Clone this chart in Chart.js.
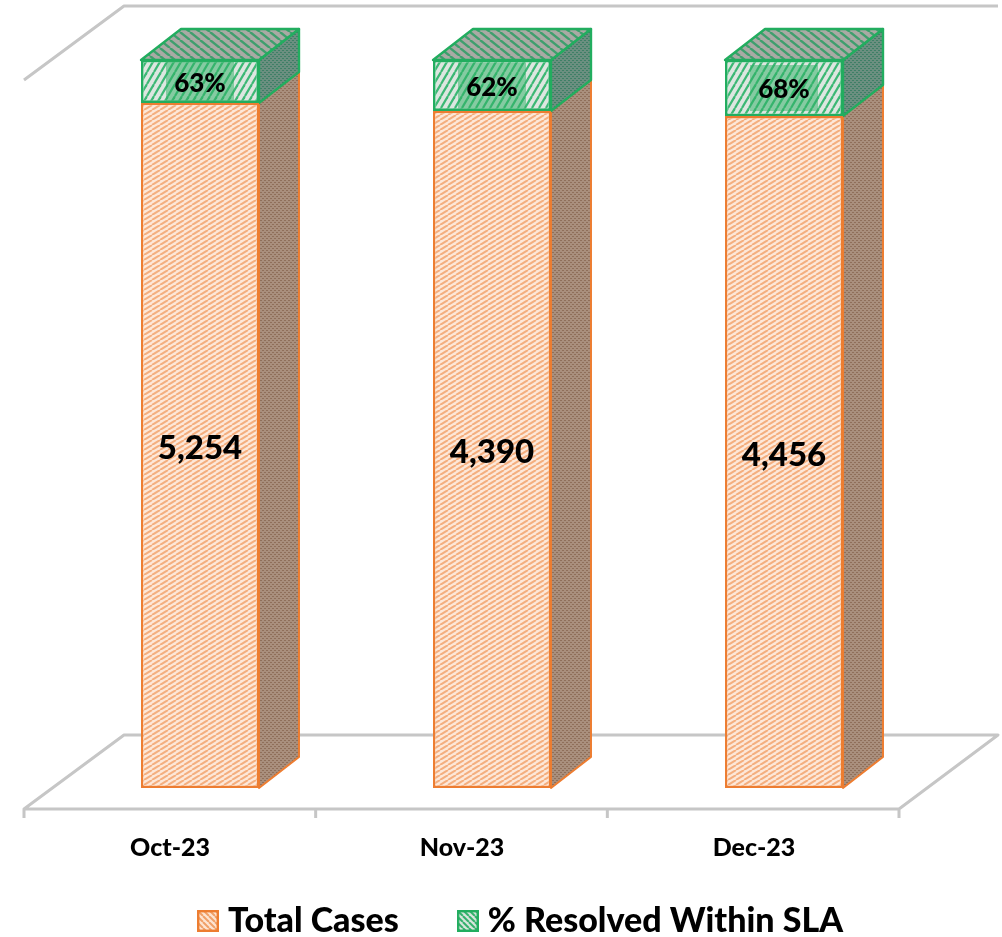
<!DOCTYPE html>
<html lang="en">
<head>
<meta charset="utf-8">
<title>Total Cases and % Resolved Within SLA</title>
<script src="https://cdn.jsdelivr.net/npm/chart.js@4"></script>
<style>html,body{margin:0;padding:0;background:#fff;overflow:hidden}canvas{display:block}</style>
</head>
<body>
<canvas id="c" width="1002" height="937"></canvas>
<script>
const categories = ['Oct-23', 'Nov-23', 'Dec-23'];
const totalCases = [5254, 4390, 4456];
const resolvedPct = [63, 62, 68];
// Heights of the two segments as a share of the full 100% column.
const totalShare = [94.1, 93.0, 92.3];
const resolvedShare = [5.9, 7.0, 7.7];
const seriesNames = ['Total Cases', '% Resolved Within SLA'];

const FONT = 'Lato, "Open Sans", sans-serif';
const ORANGE = '#ed7d31', GREEN = '#22ad5f', GRID = '#c6c6c6';

function tile(w, h, draw) {
  const c = document.createElement('canvas');
  c.width = w; c.height = h;
  draw(c.getContext('2d'));
  return c.getContext('2d').createPattern(c, 'repeat');
}
function hatch(bg, fg, w, h, lw, flip) {
  return tile(w, h, g => {
    g.fillStyle = bg; g.fillRect(0, 0, w, h);
    g.strokeStyle = fg; g.lineWidth = lw;
    for (let i = -1; i <= 2; i++) {
      g.beginPath();
      if (flip) { g.moveTo(i * w - w, 0); g.lineTo(i * w, h); }
      else { g.moveTo(i * w - w, h); g.lineTo(i * w, 0); }
      g.stroke();
    }
  });
}
function dots(bg, fg) {
  return tile(4, 4, g => {
    g.fillStyle = bg; g.fillRect(0, 0, 4, 4);
    g.fillStyle = fg;
    g.fillRect(0, 0, 2, 1); g.fillRect(2, 2, 2, 1);
  });
}
function swatch(fill, stroke) {
  const c = document.createElement('canvas');
  c.width = 22; c.height = 22;
  const g = c.getContext('2d');
  g.fillStyle = fill; g.fillRect(0, 0, 22, 22);
  g.strokeStyle = stroke; g.lineWidth = 2.4; g.strokeRect(1.2, 1.2, 19.6, 19.6);
  return c;
}
const fillOrange = hatch('#fde8d9', '#f4ae7e', 8, 5, 2);
const fillGreen = hatch('#dde6e0', '#3cb874', 7, 12, 2.2);
const topGreen = hatch('#a9aaa4', '#3f9f6e', 10, 8, 2.4, true);
const sideOrange = dots('#a98f7d', '#8f6f5a');
const sideGreen = dots('#6b8f80', '#3f7f66');
const legendOrange = swatch(hatch('#fde4d2', '#f0a068', 6, 6, 2, true), ORANGE);
const legendGreen = swatch(hatch('#dbe6df', '#2fb06a', 6, 6, 2, true), GREEN);

function poly(ctx, pts, fill, stroke, lw) {
  ctx.beginPath();
  pts.forEach((p, i) => i ? ctx.lineTo(p[0], p[1]) : ctx.moveTo(p[0], p[1]));
  ctx.closePath();
  ctx.fillStyle = fill; ctx.fill();
  ctx.strokeStyle = stroke; ctx.lineWidth = lw; ctx.lineJoin = 'round'; ctx.stroke();
}

const frame3d = {
  id: 'frame3d',
  afterLayout(chart) {
    const lg = chart.legend;
    lg.left += 32; lg.right += 32;
    lg.top = 838; lg.bottom = 937;
  },
  beforeDatasetsDraw(chart) {
    const { ctx, chartArea: a } = chart;
    const fl = a.left - 30, fr = fl + 875, fy = a.bottom + 21, bl = fl + 100, br = fr + 99, by = a.bottom - 53;
    const ty = a.top - 54;
    ctx.save();
    ctx.strokeStyle = GRID; ctx.lineWidth = 3; ctx.lineCap = 'butt'; ctx.lineJoin = 'round';
    ctx.beginPath();
    ctx.moveTo(fl, fy); ctx.lineTo(fr, fy); ctx.lineTo(br, by); ctx.lineTo(bl, by); ctx.closePath();
    ctx.moveTo(fl, a.top + 20); ctx.lineTo(bl, ty); ctx.lineTo(br, ty);
    for (let i = 0; i <= categories.length; i++) {
      const x = fl + i * (fr - fl) / categories.length;
      ctx.moveTo(x, fy); ctx.lineTo(x, fy + 9);
    }
    ctx.stroke();
    const dx = 40, dy = -31;
    const m0 = chart.getDatasetMeta(0).data, m1 = chart.getDatasetMeta(1).data;
    m0.forEach((bar, i) => {
      const r = bar.x + bar.width / 2, l = bar.x - bar.width / 2;
      const mid = bar.y, bot = bar.base, top = m1[i].y;
      poly(ctx, [[r, mid], [r + dx, mid + dy], [r + dx, bot + dy], [r, bot]], sideOrange, ORANGE, 2);
      poly(ctx, [[r, top], [r + dx, top + dy], [r + dx, mid + dy], [r, mid]], sideGreen, GREEN, 2.4);
      poly(ctx, [[l, top], [l + dx, top + dy], [r + dx, top + dy], [r, top]], topGreen, GREEN, 2.4);
    });
    ctx.restore();
  },
  afterDatasetsDraw(chart) {
    const { ctx } = chart;
    const m0 = chart.getDatasetMeta(0).data, m1 = chart.getDatasetMeta(1).data;
    ctx.save();
    ctx.textAlign = 'center'; ctx.textBaseline = 'middle'; ctx.fillStyle = '#000';
    m0.forEach((bar, i) => {
      ctx.fillStyle = '#000';
      ctx.font = '900 33px ' + FONT;
      ctx.fillText(totalCases[i].toLocaleString('en-US'), bar.x, (bar.y + bar.base) / 2 + 3);
      const top = m1[i].y, bottom = bar.y, cy = (top + bottom) / 2;
      const y0 = Math.max(top + 1, cy - 23), y1 = Math.min(bottom - 1, cy + 23);
      ctx.fillStyle = 'rgba(46,176,100,0.5)';
      ctx.fillRect(bar.x - 34, y0, 68, y1 - y0);
      ctx.fillStyle = '#000';
      ctx.font = '900 26px ' + FONT;
      ctx.fillText(resolvedPct[i] + '%', bar.x, cy + 2);
    });
    ctx.restore();
  }
};

new Chart(document.getElementById('c'), {
  type: 'bar',
  plugins: [frame3d],
  data: {
    labels: categories,
    datasets: [
      { label: seriesNames[0], data: totalShare, backgroundColor: fillOrange, borderColor: ORANGE, borderWidth: 2.4, borderSkipped: false },
      { label: seriesNames[1], data: resolvedShare, backgroundColor: fillGreen, borderColor: GREEN, borderWidth: 2.6, borderSkipped: false }
    ]
  },
  options: {
    responsive: false,
    animation: false,
    devicePixelRatio: 1,
    layout: { padding: { left: 54, right: 72, top: 60, bottom: 0 } },
    datasets: { bar: { categoryPercentage: 0.404, barPercentage: 1 } },
    scales: {
      x: {
        stacked: true,
        grid: { display: false },
        border: { display: false },
        ticks: {
          color: '#000', font: { family: FONT, weight: '900', size: 25 },
          labelOffset: -30, padding: 37, maxRotation: 0, autoSkip: false
        },
        afterFit(s) { s.height = 89; }
      },
      y: { stacked: true, display: false, min: 0, max: 100 }
    },
    plugins: {
      tooltip: { enabled: false },
      legend: {
        position: 'bottom',
        maxHeight: 60,
        labels: {
          color: '#000', font: { family: FONT, weight: '900', size: 34 },
          usePointStyle: true, pointStyleWidth: 6, boxWidth: 6, boxHeight: 22, padding: 66,
          generateLabels(chart) {
            const marks = [legendOrange, legendGreen];
            return chart.data.datasets.map((d, i) => ({
              text: d.label, pointStyle: marks[i], fontColor: '#000', datasetIndex: i, hidden: false, lineWidth: 0
            }));
          }
        }
      }
    }
  }
});
</script>
</body>
</html>
